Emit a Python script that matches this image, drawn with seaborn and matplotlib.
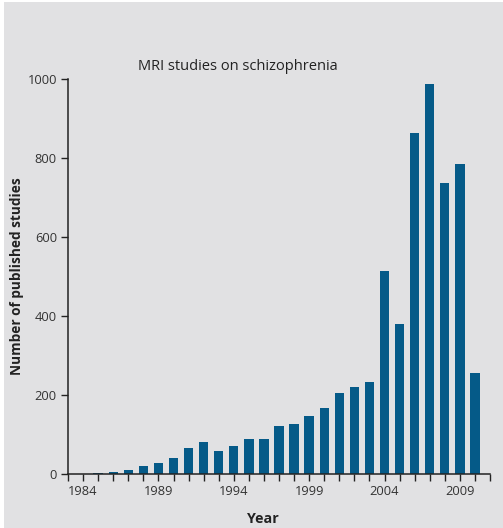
import matplotlib
matplotlib.use("Agg")
import matplotlib.pyplot as plt
import seaborn as sns
import numpy as np
from matplotlib.patches import Rectangle
from matplotlib.ticker import MultipleLocator

# data
years = list(range(1985, 2011))
studies = [3, 6, 11, 20, 28, 41, 66, 81, 57, 71, 89, 88, 122, 127,
           147, 167, 206, 221, 233, 514, 381, 863, 987, 736, 786, 256]
yticks = [0, 200, 400, 600, 800, 1000]
xticks = [1984, 1989, 1994, 1999, 2004, 2009]

sns.set_theme(style="ticks")
plt.rcParams['font.family'] = ['Open Sans', 'DejaVu Sans']

BG = "#e1e1e3"
BAR = "#055a88"
INK = "#222222"

fig = plt.figure(figsize=(5.03, 5.28), dpi=100, facecolor="white")
fig.patches.append(Rectangle((4 / 503, 0), 1, 1 - 1.5 / 528, transform=fig.transFigure,
                             facecolor=BG, edgecolor="none", zorder=-1))
ax = fig.add_axes([68 / 503, 1 - 474 / 528, 422 / 503, 395 / 528])
ax.set_facecolor(BG)

sns.barplot(x=years, y=studies, native_scale=True, width=0.62, color=BAR,
            saturation=1, edgecolor="none", ax=ax)

ax.set_xlim(1983, 2011)
ax.set_ylim(0, 1000)
ax.set_yticks(yticks)
ax.set_xticks(xticks)
ax.set_xticklabels([str(t) for t in xticks])
ax.xaxis.set_minor_locator(MultipleLocator(1))
ax.tick_params(axis="both", which="both", direction="out", length=5, width=1,
               color=INK, labelsize=9.3, labelcolor="#333333", pad=3)

sns.despine(ax=ax)
for s in ["left", "bottom"]:
    ax.spines[s].set_color(INK)
    ax.spines[s].set_linewidth(1.1)

ax.set_ylabel("Number of published studies", fontsize=9.8, fontweight="bold",
              color="#222222")
ax.yaxis.set_label_coords((24 - 68) / 422, 0.5)
ax.set_xlabel("Year", fontsize=10.3, fontweight="bold", color="#222222")
ax.xaxis.set_label_coords((263 - 68) / 422, -38 / 395)

fig.text(238 / 503, 1 - 66 / 528, "MRI studies on schizophrenia", ha="center",
         va="center", fontsize=10.5, color="#222222")

fig.savefig("out.png", dpi=100, facecolor=fig.get_facecolor())
